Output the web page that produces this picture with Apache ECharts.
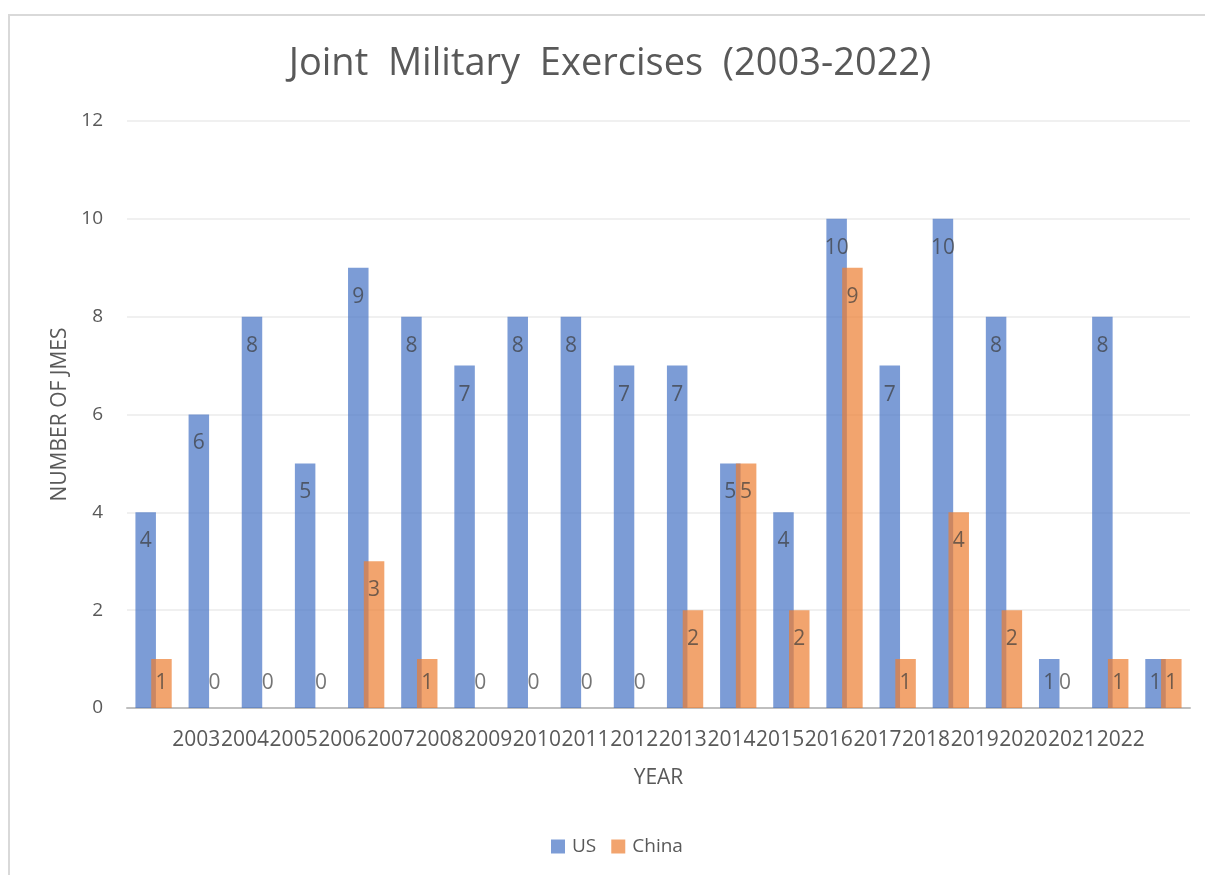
<!DOCTYPE html>
<html>
<head>
<meta charset="utf-8">
<title>Joint Military Exercises (2003-2022)</title>
<script src="https://cdn.jsdelivr.net/npm/echarts@6/dist/echarts.min.js"></script>
<style>
  html, body { margin: 0; padding: 0; background: #ffffff; }
  #chart { width: 1205px; height: 875px; }
</style>
</head>
<body>
<div id="chart"></div>
<script>
// Years on the category axis
const years = ['2003', '2004', '2005', '2006', '2007', '2008', '2009', '2010', '2011', '2012',
               '2013', '2014', '2015', '2016', '2017', '2018', '2019', '2020', '2021', '2022'];

// Number of joint military exercises per year
const usJMEs    = [4, 6, 8, 5, 9, 8, 7, 8, 8, 7, 7, 5, 4, 10, 7, 10, 8, 1, 8, 1];
const chinaJMEs = [1, 0, 0, 0, 3, 1, 0, 0, 0, 0, 2, 5, 2, 9, 1, 4, 2, 0, 1, 1];

// Value axis range
const yMin = 0;
const yMax = 12;
const yStep = 2;

const FONT = "'Open Sans', 'Noto Sans', sans-serif";
const TEXT = '#595959';

// Short bars get their value label pinned near the baseline, taller ones just inside the top
function labelled(values) {
  return values.map(v => ({
    value: v,
    label: v <= 1
      ? { position: 'insideBottom', distance: 14.5 }
      : { position: 'insideTop', distance: 18.5 }
  }));
}

const valueLabel = {
  show: true,
  color: '#3a3a3a',
  fontFamily: FONT,
  fontSize: 21
};

const chart = echarts.init(document.getElementById('chart'), null, { renderer: 'canvas' });

chart.setOption({
  backgroundColor: '#ffffff',
  animation: false,
  textStyle: { fontFamily: FONT },
  graphic: [{
    type: 'rect',
    silent: true,
    shape: { x: 9, y: 15, width: 1400, height: 1000 },
    style: { fill: 'none', stroke: '#d9d9d9', lineWidth: 2 }
  }],
  title: {
    text: 'Joint  Military  Exercises  (2003-2022)',
    left: 605,
    top: 40,
    textAlign: 'center',
    textStyle: { fontFamily: FONT, fontSize: 38, fontWeight: 'normal', color: TEXT }
  },
  legend: {
    data: ['US', 'China'],
    left: 546,
    top: 832,
    icon: 'rect',
    itemWidth: 14,
    itemHeight: 14,
    itemGap: 15,
    textStyle: { fontFamily: FONT, fontSize: 19, color: TEXT, padding: [0, 0, 0, 2] }
  },
  grid: [
    { left: 127, right: 15, top: 121, bottom: 167, containLabel: false },
    { left: 172, width: 973, top: 121, bottom: 167, containLabel: false }
  ],
  xAxis: [
    {
      type: 'category',
      gridIndex: 0,
      data: years,
      name: 'YEAR',
      nameLocation: 'middle',
      nameGap: 60,
      nameTextStyle: { fontFamily: FONT, fontSize: 21, color: TEXT },
      axisLine: { lineStyle: { color: '#bfbfbf', width: 2 } },
      axisTick: { show: false },
      axisLabel: { show: false }
    },
    {
      type: 'category',
      gridIndex: 1,
      data: years,
      axisLine: { show: false },
      axisTick: { show: false },
      splitLine: { show: false },
      axisLabel: { interval: 0, margin: 22, fontFamily: FONT, fontSize: 21, color: TEXT }
    }
  ],
  yAxis: [
    {
      type: 'value',
      gridIndex: 0,
      min: yMin,
      max: yMax,
      interval: yStep,
      name: 'NUMBER OF JMES',
      nameLocation: 'middle',
      nameGap: 53,
      nameTextStyle: { fontFamily: FONT, fontSize: 21, color: TEXT },
      axisLine: { show: false },
      axisTick: { show: false },
      axisLabel: { margin: 24, fontFamily: FONT, fontSize: 19, color: TEXT },
      splitLine: { lineStyle: { color: '#ebebeb', width: 1.5 } }
    },
    {
      type: 'value',
      gridIndex: 1,
      min: yMin,
      max: yMax,
      show: false
    }
  ],
  series: [
    {
      name: 'US',
      type: 'bar',
      xAxisIndex: 0,
      yAxisIndex: 0,
      barWidth: 20.5,
      barGap: '-23%',
      itemStyle: { color: '#4472C4', opacity: 0.7 },
      label: valueLabel,
      data: labelled(usJMEs)
    },
    {
      name: 'China',
      type: 'bar',
      xAxisIndex: 0,
      yAxisIndex: 0,
      barWidth: 20.5,
      barGap: '-23%',
      itemStyle: { color: '#ED7D31', opacity: 0.7 },
      label: valueLabel,
      data: labelled(chinaJMEs)
    }
  ]
});
</script>
</body>
</html>
